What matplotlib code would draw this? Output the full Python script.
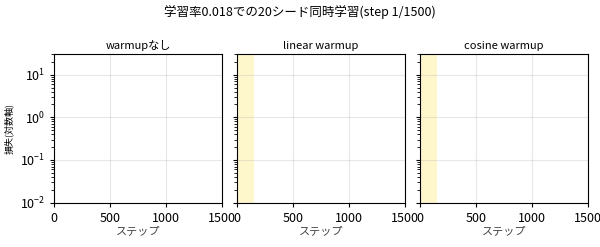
import numpy as np
import matplotlib
matplotlib.use("Agg")
import matplotlib.pyplot as plt

plt.rcParams['font.family'] = ['Noto Sans CJK JP', 'DejaVu Sans']

# Data: only step 1 of 1500 recorded so far (single point per seed -> nothing drawn yet)
titles = ['warmupなし', 'linear warmup', 'cosine warmup']
warmup_steps = [0, 150, 150]
total_steps = 1500
n_seeds = 20
steps = [1]
losses = [2.3] * n_seeds  # loss at step 1 per seed

fig, axes = plt.subplots(1, 3, figsize=(6.0, 2.47), dpi=100, sharey=True)
fig.subplots_adjust(left=0.09, right=0.98, top=0.78, bottom=0.18, wspace=0.09)

for ax, title, w in zip(axes, titles, warmup_steps):
    if w > 0:
        ax.axvspan(0, w, color='gold', alpha=0.2, lw=0)
    for s in range(n_seeds):
        ax.plot(steps, [losses[s]], lw=0.8, alpha=0.6)
    ax.set_yscale('log')
    ax.set_xlim(0, total_steps)
    ax.set_ylim(1e-2, 30)
    ax.set_title(title, fontsize=8, pad=4)
    ax.set_xlabel('ステップ', fontsize=8, labelpad=1, color='#444444')
    ax.grid(True, alpha=0.3)
    ax.tick_params(labelsize=9, length=3)

axes[0].set_ylabel('損失(対数軸)', fontsize=6.5)
fig.suptitle('学習率0.018での20シード同時学習(step 1/1500)', fontsize=9, y=0.98)

fig.savefig('out.png', dpi=100)
